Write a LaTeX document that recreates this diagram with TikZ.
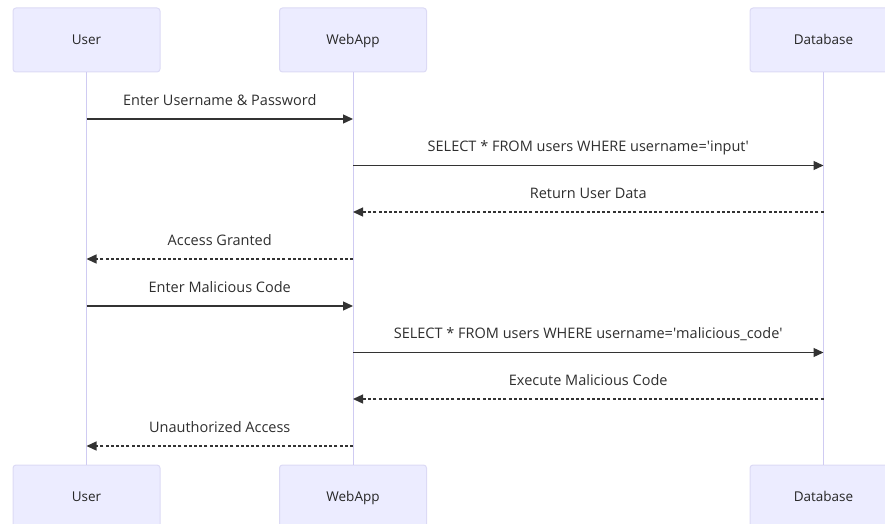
\documentclass[tikz,border=0pt]{standalone}
\usepackage{fontspec}
\setmainfont{Open Sans}
\usepackage{tikz}
\usetikzlibrary{arrows.meta}
\definecolor{actorfill}{HTML}{ECECFF}
\definecolor{actorline}{HTML}{DCDAF5}
\definecolor{lifeline}{HTML}{CFCBF2}
\definecolor{msgline}{HTML}{333333}
\begin{document}
\begin{tikzpicture}[
  x=1pt, y=-1pt,
  font=\fontsize{13.5}{15}\selectfont,
  actor/.style={draw=actorline, fill=actorfill, rounded corners=3pt, line width=1pt,
    minimum width=147pt, minimum height=64pt, text=black!85,
    text height=9pt, text depth=0pt},
  life/.style={draw=lifeline, line width=1pt},
  msg/.style={draw=msgline, line width=1.3pt, -{Triangle[length=10pt,width=9pt]}},
  reply/.style={msg, dash pattern=on 3pt off 2.2pt},
  lbl/.style={midway, yshift=17.5pt, inner sep=0pt, text=black!82,
    font=\fontsize{14.5}{16}\selectfont, text height=10.5pt, text depth=3pt}
]
\useasboundingbox (0,0) rectangle (885,524);
\clip (0,0) rectangle (885,524);
% actors, top and bottom
\node[actor] (userT) at (86.5,40) {User};
\node[actor] (webT) at (353,40) {WebApp};
\node[actor] (dbT) at (823.5,40) {Database};
\node[actor] (userB) at (86.5,497) {User};
\node[actor] (webB) at (353,497) {WebApp};
\node[actor] (dbB) at (823.5,497) {Database};
% lifelines
\draw[life] (userT) -- (userB);
\draw[life] (webT) -- (webB);
\draw[life] (dbT) -- (dbB);
% message points on the lifelines
\foreach \n/\y in {1/119,2/165.5,3/212,4/259,5/306,6/352.5,7/399,8/446} {
  \coordinate (u\n) at (86.5,\y);
  \coordinate (w\n) at (353,\y);
  \coordinate (d\n) at (823.5,\y);
}
% messages
\draw[msg] (u1) -- node[lbl] {Enter Username \& Password} (w1);
\draw[msg] (w2) -- node[lbl] {SELECT * FROM users WHERE username=\textquotesingle input\textquotesingle} (d2);
\draw[reply] (d3) -- node[lbl] {Return User Data} (w3);
\draw[reply] (w4) -- node[lbl] {Access Granted} (u4);
\draw[msg] (u5) -- node[lbl] {Enter Malicious Code} (w5);
\draw[msg] (w6) -- node[lbl] {SELECT * FROM users WHERE username=\textquotesingle malicious\_code\textquotesingle} (d6);
\draw[reply] (d7) -- node[lbl] {Execute Malicious Code} (w7);
\draw[reply] (w8) -- node[lbl] {Unauthorized Access} (u8);
\end{tikzpicture}
\end{document}
